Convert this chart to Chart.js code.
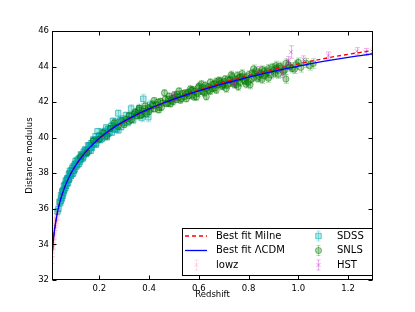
<!DOCTYPE html>
<html><head><meta charset="utf-8">
<script src="https://cdn.jsdelivr.net/npm/chart.js@4"></script>
<style>html,body{margin:0;padding:0;background:#fff}#w{width:415px;height:312px;position:relative}</style>
</head><body><div id="w"><canvas id="c"></canvas></div>
<script>
// ---- data ----
const curveZ = [0.01,0.015,0.02,0.03,0.04,0.05,0.06,0.07,0.08,0.09,0.1,0.12,0.14,0.16,0.18,0.2,0.25,0.3,0.35,0.4,0.45,0.5,0.55,0.6,0.65,0.7,0.75,0.8,0.85,0.9,0.95,1.0,1.05,1.1,1.15,1.2,1.25,1.3];
const lcdmMu = [33.30,34.17,34.80,35.68,36.30,36.78,37.18,37.52,37.82,38.09,38.33,38.75,39.11,39.43,39.71,39.97,40.50,40.93,41.30,41.62,41.91,42.17,42.41,42.63,42.84,43.04,43.22,43.40,43.57,43.73,43.88,44.02,44.16,44.29,44.41,44.52,44.62,44.72];
const milneMu = [33.30,34.17,34.79,35.67,36.29,36.77,37.17,37.51,37.81,38.08,38.31,38.73,39.09,39.40,39.68,39.94,40.47,40.90,41.28,41.61,41.91,42.18,42.43,42.67,42.89,43.11,43.30,43.49,43.67,43.84,44.00,44.15,44.30,44.44,44.57,44.69,44.80,44.91];

const lowzZ = [0.010,0.011,0.012,0.013,0.014,0.015,0.016,0.017,0.018,0.019,0.020,0.022,0.023,0.024,0.025,0.026,0.027,0.028,0.029,0.030,0.032,0.034,0.036,0.038,0.040,0.043,0.046,0.050,0.055,0.060,0.066,0.072,0.080,0.090,0.100];
const lowzMu = [33.22,33.60,33.55,34.02,33.95,34.30,34.18,34.57,34.49,34.85,34.70,35.14,34.98,35.32,35.20,35.50,35.35,35.66,35.52,35.80,35.72,36.08,35.98,36.32,36.22,36.58,36.50,36.90,36.88,37.30,37.30,37.70,37.74,38.20,38.25];
const lowzErr = [0.30,0.28,0.27,0.26,0.25,0.24,0.23,0.22,0.22,0.21,0.20,0.19,0.19,0.18,0.18,0.17,0.17,0.17,0.16,0.16,0.16,0.15,0.15,0.15,0.15,0.14,0.14,0.14,0.14,0.14,0.14,0.13,0.13,0.13,0.13];

const sdssZ = [0.032,0.036,
0.040,0.043,0.046,0.048,0.051,0.053,0.055,0.058,0.060,0.062,
0.064,0.066,0.068,0.070,0.072,0.074,0.076,0.078,0.080,0.083,
0.085,0.087,0.090,0.092,0.094,0.097,0.099,0.102,0.104,0.107,
0.110,0.112,0.115,0.118,0.120,0.123,0.126,0.128,0.131,0.134,
0.137,0.140,0.143,0.146,0.149,0.152,0.155,0.158,0.161,0.164,
0.167,0.170,0.173,0.176,0.180,0.183,0.186,0.190,0.193,0.197,
0.200,0.204,0.208,0.212,0.216,0.220,0.224,0.228,0.232,0.236,
0.240,0.245,0.250,0.255,0.260,0.265,0.270,0.276,0.282,0.288,
0.294,0.300,0.307,0.314,0.321,0.328,0.336,0.344,0.352,0.361,
0.370,0.377,0.385,0.397,0.404,
0.050,0.057,0.065,0.075,0.082,0.095,0.105,0.125,0.145,0.165,0.185,0.205,0.230,0.255,0.277,0.330,
0.045,0.052,0.056,0.061,0.067,0.071,0.077,0.081,0.086,0.091,0.096,0.101,0.108,0.114,0.121,
0.129,0.136,0.142,0.151,0.159,0.168,0.178,0.188,0.198,0.210,0.222,0.235,0.248,0.262,0.285];
const sdssMu = [35.86,36.00,
36.40,36.32,36.77,36.63,36.96,36.74,37.04,37.30,37.08,37.37,
37.18,37.42,37.62,37.44,37.68,37.45,37.75,37.97,37.71,37.99,
37.90,38.16,37.96,38.16,38.38,38.17,38.38,38.22,38.54,38.46,
38.70,38.46,38.70,38.53,38.86,38.75,39.06,38.79,39.03,38.84,
39.20,39.07,39.34,39.08,39.31,39.23,39.57,39.25,39.53,39.46,
39.69,39.45,39.65,39.90,39.62,39.87,39.62,39.91,40.36,39.87,
40.12,39.87,40.10,40.32,40.04,40.29,40.04,40.57,40.27,40.49,
40.27,40.53,40.30,40.71,40.52,40.89,40.52,41.37,40.88,40.61,
41.06,40.85,41.26,40.86,41.21,41.64,41.00,41.41,41.23,41.67,
41.13,42.19,41.42,41.15,41.86,
36.58,37.02,37.57,37.65,38.14,37.99,38.70,38.84,39.21,39.28,40.08,40.04,40.04,40.94,40.43,41.20,
36.45,37.00,36.90,37.30,37.30,37.72,37.62,37.98,37.85,38.28,38.12,38.50,38.38,38.78,38.64,
39.02,38.93,39.28,39.16,39.56,39.42,39.82,39.70,40.10,39.95,40.38,40.22,40.65,40.45,40.98];
const sdssErr = [0.16,0.15,
0.14,0.15,0.13,0.14,0.14,0.13,0.14,0.15,0.14,0.13,
0.14,0.14,0.15,0.14,0.14,0.15,0.13,0.14,0.14,0.14,
0.14,0.15,0.13,0.14,0.15,0.14,0.13,0.14,0.15,0.14,
0.14,0.13,0.14,0.15,0.14,0.14,0.15,0.14,0.14,0.13,
0.14,0.14,0.15,0.14,0.14,0.13,0.15,0.14,0.14,0.14,
0.15,0.14,0.14,0.15,0.14,0.15,0.15,0.15,0.16,0.15,
0.15,0.15,0.15,0.16,0.15,0.16,0.16,0.16,0.16,0.16,
0.16,0.17,0.17,0.17,0.17,0.18,0.18,0.20,0.18,0.18,
0.19,0.19,0.19,0.20,0.20,0.21,0.21,0.21,0.22,0.22,
0.23,0.25,0.23,0.25,0.25,
0.14,0.14,0.15,0.14,0.15,0.14,0.15,0.14,0.14,0.15,0.16,0.15,0.16,0.18,0.19,0.21,
0.14,0.14,0.13,0.14,0.15,0.14,0.14,0.13,0.14,0.15,0.14,0.14,0.15,0.14,0.14,
0.15,0.14,0.15,0.14,0.15,0.15,0.15,0.16,0.15,0.16,0.16,0.17,0.17,0.17,0.18];

const snlsZ = [0.125,0.150,0.175,0.200,0.215,0.230,0.245,0.260,0.275,0.290,
0.300,0.310,0.320,0.330,0.340,0.350,0.358,0.366,0.374,0.382,
0.390,0.398,0.406,0.414,0.422,0.430,0.438,0.446,0.454,0.462,
0.470,0.478,0.486,0.494,0.502,0.510,0.518,0.526,0.534,0.542,
0.550,0.558,0.566,0.574,0.582,0.590,0.598,0.606,0.614,0.622,
0.630,0.638,0.646,0.654,0.662,0.670,0.678,0.686,0.694,0.702,
0.710,0.718,0.726,0.734,0.742,0.750,0.758,0.766,0.774,0.782,
0.790,0.798,0.806,0.814,0.822,0.830,0.838,0.846,0.854,0.862,
0.870,0.880,0.890,0.900,0.910,0.920,0.930,0.940,0.950,0.960,
0.975,0.990,1.010,1.030,1.060,
0.36,0.42,0.45,0.48,0.52,0.55,0.58,0.61,0.64,0.67,0.70,0.73,0.76,0.79,0.82,0.85,0.88,0.91,0.95,0.49,0.57,0.63,0.69,0.75,
0.32,0.345,0.37,0.385,0.40,0.415,0.435,0.44,0.465,0.475,0.495,0.505,0.515,0.53,0.545,0.56,0.575,0.595,0.60,0.615,0.625,0.645,0.655,0.665,0.68,
0.695,0.705,0.715,0.725,0.74,0.755,0.765,0.775,0.785,0.80,0.81,0.825,0.84,0.855,0.865,0.875,0.895,0.905,0.915,0.925,0.945,0.965,0.985,1.00,1.045];
const snlsMu = [38.94,39.15,39.84,39.92,40.28,40.11,40.53,40.84,40.62,40.96,
40.73,41.05,41.26,41.01,41.33,41.24,41.57,41.24,41.49,41.64,
41.32,41.69,41.60,41.90,41.62,41.85,41.56,42.05,41.95,42.52,
41.91,42.17,41.90,42.21,42.40,42.14,42.28,42.11,42.48,42.32,
42.19,42.55,42.74,42.40,42.60,42.29,42.80,42.62,42.81,42.52,
42.31,42.87,43.12,42.76,43.03,42.68,42.99,43.18,42.88,43.15,
42.76,43.26,43.07,43.44,43.01,43.28,42.87,43.40,43.61,43.23,
43.40,43.13,42.97,43.63,43.39,43.76,43.33,43.64,43.28,43.75,
43.59,43.89,43.54,43.79,44.06,43.57,43.92,43.73,43.30,44.09,
43.89,44.11,43.95,44.20,44.17,
41.66,42.09,41.71,42.34,42.63,42.46,42.29,43.02,42.68,43.16,42.99,43.53,43.36,43.01,43.87,43.57,43.35,43.90,44.18,42.10,42.66,42.76,43.06,43.00,
40.92,41.45,41.30,41.80,41.48,41.80,42.00,41.70,42.16,41.95,42.02,42.30,42.45,42.20,42.52,42.36,42.70,42.50,42.90,42.60,42.95,42.62,42.98,42.80,43.22,
42.95,43.30,42.96,43.25,43.12,43.50,43.10,43.42,43.18,43.55,43.28,43.60,43.45,43.82,43.48,43.72,43.95,43.62,43.85,44.02,43.80,43.98,43.86,44.24,44.05];
const snlsErr = [0.12,0.12,0.13,0.13,0.12,0.13,0.13,0.14,0.13,0.14,
0.14,0.13,0.14,0.14,0.15,0.14,0.15,0.14,0.15,0.15,
0.15,0.15,0.16,0.15,0.16,0.15,0.16,0.16,0.16,0.17,
0.16,0.17,0.16,0.17,0.17,0.16,0.17,0.17,0.18,0.17,
0.17,0.18,0.18,0.17,0.18,0.18,0.19,0.18,0.18,0.19,
0.19,0.18,0.19,0.19,0.20,0.19,0.19,0.20,0.19,0.20,
0.20,0.20,0.19,0.21,0.20,0.20,0.21,0.20,0.21,0.21,
0.21,0.21,0.22,0.21,0.22,0.22,0.21,0.22,0.22,0.23,
0.22,0.23,0.23,0.22,0.24,0.23,0.23,0.24,0.24,0.24,
0.25,0.25,0.26,0.26,0.27,
0.15,0.16,0.16,0.17,0.17,0.18,0.18,0.19,0.19,0.20,0.20,0.21,0.21,0.21,0.22,0.22,0.23,0.23,0.24,0.17,0.18,0.19,0.20,0.20,
0.14,0.15,0.15,0.15,0.16,0.16,0.16,0.16,0.17,0.17,0.17,0.17,0.17,0.17,0.18,0.18,0.18,0.18,0.19,0.18,0.19,0.19,0.19,0.19,0.20,
0.20,0.20,0.20,0.20,0.20,0.21,0.21,0.21,0.21,0.21,0.21,0.22,0.22,0.22,0.22,0.22,0.23,0.23,0.23,0.23,0.23,0.24,0.24,0.24,0.25];

const hstZ = [0.50,0.74,0.84,0.935,0.96,0.97,1.02,1.12,1.235,1.27,1.298];
const hstMu = [42.35,43.05,43.75,43.60,44.34,44.82,44.40,44.62,44.86,44.82,44.85];
const hstErr = [0.25,0.25,0.25,0.22,0.22,0.35,0.20,0.20,0.20,0.20,0.20];

const xTicks = [0.2,0.4,0.6,0.8,1.0,1.2];
const yTicks = [32,34,36,38,40,42,44,46];
const FONT = 'DejaVu Sans';

function pts(zs, ms){ return zs.map((z,i)=>({x:z, y:ms[i]})); }

const plug = {
  id:'mpl',
  beforeDatasetDraw(chart, args){
    const ds = chart.data.datasets[args.index];
    if(!ds.err) return;
    const {ctx, chartArea:a, scales:{x, y}} = chart;
    ctx.save();
    ctx.beginPath(); ctx.rect(a.left, a.top, a.right-a.left, a.bottom-a.top); ctx.clip();
    ctx.strokeStyle = ds.errColor; ctx.lineWidth = 1;
    ds.data.forEach((p,i)=>{
      const px = Math.round(x.getPixelForValue(p.x))+0.5;
      const y1 = y.getPixelForValue(p.y-ds.err[i]), y2 = y.getPixelForValue(p.y+ds.err[i]);
      ctx.beginPath();
      ctx.moveTo(px,y1); ctx.lineTo(px,y2);
      ctx.moveTo(px-2.5,y1); ctx.lineTo(px+2.5,y1);
      ctx.moveTo(px-2.5,y2); ctx.lineTo(px+2.5,y2);
      ctx.stroke();
    });
    ctx.restore();
  },
  afterDraw(chart){
    const {ctx, chartArea:a, scales:{x, y}} = chart;
    const L = Math.round(a.left)+0.5, R = Math.round(a.right)-0.5, T = Math.round(a.top)+0.5, B = Math.round(a.bottom)-0.5;
    ctx.save();
    ctx.strokeStyle = '#000'; ctx.lineWidth = 1;
    ctx.beginPath();
    xTicks.forEach(v=>{ const p = Math.round(x.getPixelForValue(v))+0.5; ctx.moveTo(p,B); ctx.lineTo(p,B-4); ctx.moveTo(p,T); ctx.lineTo(p,T+4); });
    yTicks.forEach(v=>{ const p = Math.round(y.getPixelForValue(v))+0.5; ctx.moveTo(L,p); ctx.lineTo(L+4,p); ctx.moveTo(R,p); ctx.lineTo(R-4,p); });
    ctx.stroke();
    ctx.strokeRect(L, T, R-L, B-T);
    // legend
    const ds = chart.data.datasets;
    const bx = 182.5, by = 228.5, bw = 190, bh = 47;
    ctx.fillStyle = '#fff'; ctx.fillRect(bx, by, bw, bh);
    ctx.strokeStyle = '#000'; ctx.strokeRect(bx, by, bw, bh);
    const rows = [236, 250.5, 265];
    const cols = [{hx0:185, hx1:207, tx:216}, {hx0:308, hx1:328, tx:337}];
    const layout = [[0,0,0],[1,0,1],[2,0,2],[3,1,0],[4,1,1],[5,1,2]];
    ctx.font = '10px "' + FONT + '"'; ctx.textBaseline = 'middle'; ctx.textAlign = 'left';
    layout.forEach(([di, ci, ri])=>{
      const d = ds[di], c = cols[ci], yy = rows[ri];
      if(d.type === 'line'){
        ctx.save();
        ctx.strokeStyle = d.borderColor; ctx.lineWidth = d.borderWidth;
        ctx.setLineDash(d.borderDash || []);
        ctx.beginPath(); ctx.moveTo(c.hx0, yy); ctx.lineTo(c.hx1, yy); ctx.stroke();
        ctx.restore();
      } else {
        const hx = Math.round((c.hx0+c.hx1)/2)+0.5;
        ctx.save();
        ctx.strokeStyle = d.errColor; ctx.lineWidth = 1;
        ctx.beginPath();
        ctx.moveTo(hx, yy-5); ctx.lineTo(hx, yy+5);
        ctx.moveTo(hx-2, yy-5); ctx.lineTo(hx+2, yy-5);
        ctx.moveTo(hx-2, yy+5); ctx.lineTo(hx+2, yy+5);
        ctx.stroke();
        ctx.fillStyle = d.backgroundColor; ctx.strokeStyle = d.borderColor;
        Chart.helpers.drawPoint(ctx, {pointStyle:d.pointStyle, radius:d.pointRadius, rotation:0, borderWidth:1}, hx, yy);
        ctx.restore();
      }
      ctx.fillStyle = '#000';
      ctx.fillText(d.label, c.tx, yy);
    });
    ctx.restore();
  }
};

new Chart(document.getElementById('c'), {
  type:'scatter',
  data:{datasets:[
    {type:'line', label:'Best fit Milne', data:pts(curveZ, milneMu), borderColor:'#ff0000', borderWidth:1.3, borderDash:[4,3], pointRadius:0, fill:false, cubicInterpolationMode:'monotone', order:1},
    {type:'line', label:'Best fit \u039BCDM', data:pts(curveZ, lcdmMu), borderColor:'#0000ff', borderWidth:1.3, pointRadius:0, fill:false, cubicInterpolationMode:'monotone', order:0},
    {label:'lowz', data:pts(lowzZ, lowzMu), err:lowzErr, errColor:'rgba(255,160,185,0.35)', pointStyle:'crossRot', pointRadius:2.8, backgroundColor:'rgba(255,160,185,0.35)', borderColor:'rgba(255,160,185,0.45)', borderWidth:1, order:5},
    {label:'SDSS', data:pts(sdssZ, sdssMu), err:sdssErr, errColor:'rgba(0,191,191,0.35)', pointStyle:'rect', pointRadius:3.9, backgroundColor:'rgba(0,191,191,0.32)', borderColor:'rgba(0,150,150,0.5)', borderWidth:1, order:4},
    {label:'SNLS', data:pts(snlsZ, snlsMu), err:snlsErr, errColor:'rgba(0,128,0,0.3)', pointStyle:'circle', pointRadius:3.1, backgroundColor:'rgba(0,128,0,0.32)', borderColor:'rgba(0,110,0,0.45)', borderWidth:1, order:3},
    {label:'HST', data:pts(hstZ, hstMu), err:hstErr, errColor:'rgba(191,0,191,0.3)', pointStyle:'crossRot', pointRadius:3, backgroundColor:'rgba(191,0,191,0.35)', borderColor:'rgba(191,0,191,0.4)', borderWidth:1, order:2}
  ]},
  options:{
    responsive:true, maintainAspectRatio:false, animation:false,
    layout:{padding:{left:0, right:42, top:31, bottom:0}},
    plugins:{legend:{display:false}, tooltip:{enabled:false}},
    scales:{
      x:{type:'linear', min:0.01, max:1.3,
         grid:{display:false, drawTicks:false}, border:{display:false},
         afterBuildTicks:s=>{ s.ticks = xTicks.map(v=>({value:v})); },
         afterFit:s=>{ s.height = 32; },
         ticks:{color:'#000', font:{family:FONT, size:8.5}, padding:4, maxRotation:0, autoSkip:false, callback:v=>Number(v).toFixed(1)},
         title:{display:true, text:'Redshift', color:'#000', font:{family:FONT, size:8.5}, padding:{top:0, bottom:12}}},
      y:{type:'linear', min:32, max:46,
         grid:{display:false, drawTicks:false}, border:{display:false},
         afterBuildTicks:s=>{ s.ticks = yTicks.map(v=>({value:v})); },
         afterFit:s=>{ s.width = 52; },
         ticks:{color:'#000', font:{family:FONT, size:8.5}, padding:3, autoSkip:false, callback:v=>String(v)},
         title:{display:true, text:'Distance modulus', color:'#000', font:{family:FONT, size:8.5}, padding:{top:25, bottom:0}}}
    }
  },
  plugins:[plug]
});
</script>
</body></html>
